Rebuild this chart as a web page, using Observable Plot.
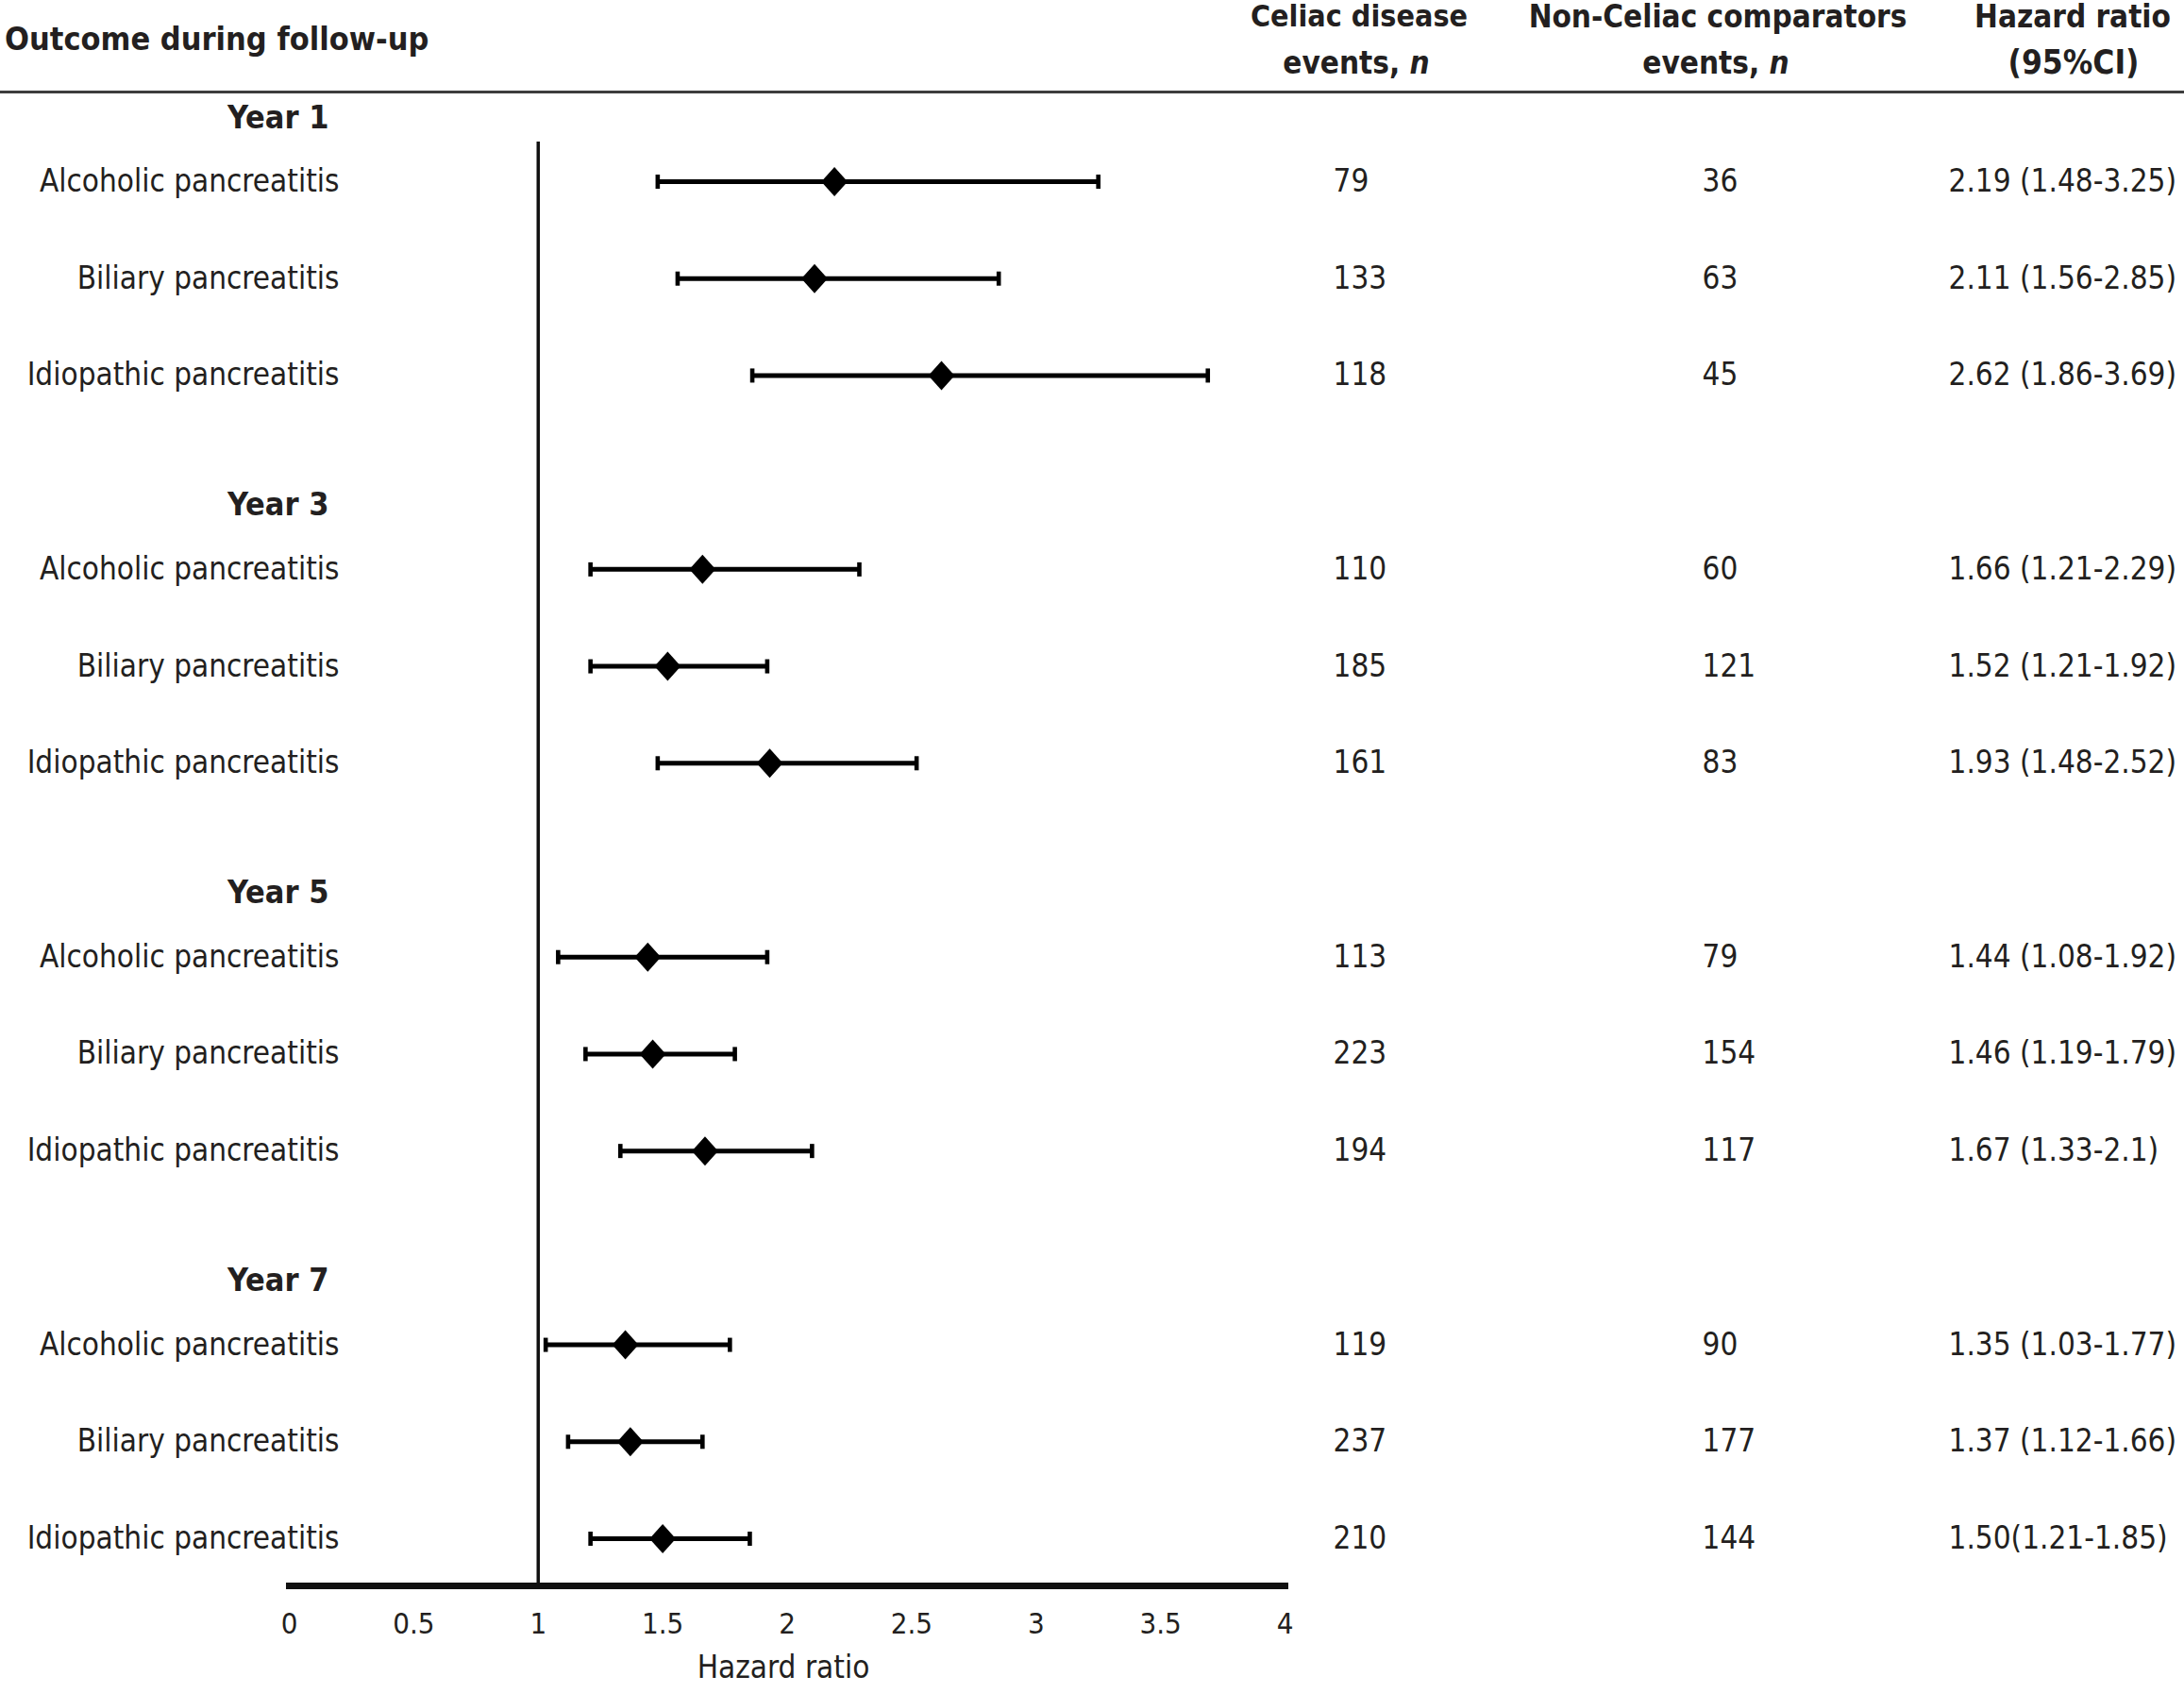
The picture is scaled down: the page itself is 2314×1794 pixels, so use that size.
<!DOCTYPE html>
<html>
<head>
<meta charset="utf-8">
<script src="https://cdn.jsdelivr.net/npm/d3@7"></script>
<script src="https://cdn.jsdelivr.net/npm/@observablehq/plot@0.6"></script>
<style>
  html, body { margin: 0; padding: 0; background: #fff; }
  #wrap { position: relative; width: 2314px; height: 1794px; font-family: 'DejaVu Sans Condensed', 'DejaVu Sans', sans-serif; font-stretch: condensed; color: #231f20; }
  .h { position: absolute; font-weight: bold; font-size: 33px; line-height: 33px; white-space: nowrap; }
  .c { transform: translateX(-50%); }
  #rule { position: absolute; left: 0; top: 96px; width: 2314px; height: 3px; background: #3c3c3c; }
</style>
</head>
<body>
<div id="wrap">
  <div class="h" style="left:5px; top:25px; font-size:34px;">Outcome during follow-up</div>
  <div class="h c" style="left:1440px; top:1px; font-size:32px;">Celiac disease</div>
  <div class="h c" style="left:1437px; top:50px;">events, <i>n</i></div>
  <div class="h c" style="left:1820px; top:1px;">Non-Celiac comparators</div>
  <div class="h c" style="left:1818px; top:50px;">events, <i>n</i></div>
  <div class="h c" style="left:2196px; top:1px;">Hazard ratio</div>
  <div class="h c" style="left:2197px; top:50px; font-size:35px;">(95%CI)</div>
  <div id="rule"></div>
</div>
<script>
const years = ["Year 1", "Year 3", "Year 5", "Year 7"];
const outcomes = ["Alcoholic pancreatitis", "Biliary pancreatitis", "Idiopathic pancreatitis"];
const hr   = [2.19, 2.11, 2.62, 1.66, 1.52, 1.93, 1.44, 1.46, 1.67, 1.35, 1.37, 1.50];
const lo   = [1.48, 1.56, 1.86, 1.21, 1.21, 1.48, 1.08, 1.19, 1.33, 1.03, 1.12, 1.21];
const hi   = [3.25, 2.85, 3.69, 2.29, 1.92, 2.52, 1.92, 1.79, 2.10, 1.77, 1.66, 1.85];
const celiacEvents = [79, 133, 118, 110, 185, 161, 113, 223, 194, 119, 237, 210];
const nonCeliacEvents = [36, 63, 45, 60, 121, 83, 79, 154, 117, 90, 177, 144];
const hrLabels = ["2.19 (1.48-3.25)", "2.11 (1.56-2.85)", "2.62 (1.86-3.69)",
                  "1.66 (1.21-2.29)", "1.52 (1.21-1.92)", "1.93 (1.48-2.52)",
                  "1.44 (1.08-1.92)", "1.46 (1.19-1.79)", "1.67 (1.33-2.1)",
                  "1.35 (1.03-1.77)", "1.37 (1.12-1.66)", "1.50(1.21-1.85)"];
const xTicks = [0, 0.5, 1, 1.5, 2, 2.5, 3, 3.5, 4];

// layout: each year block occupies 4 row slots; the year title sits above its first row
const rows = hr.map((d, k) => ({
  year: years[Math.floor(k / 3)],
  outcome: outcomes[k % 3],
  hr: d, lo: lo[k], hi: hi[k],
  celiac: String(celiacEvents[k]),
  non: String(nonCeliacEvents[k]),
  label: hrLabels[k],
  pos: Math.floor(k / 3) * 4 + (k % 3)
}));
const titles = years.map((y, g) => ({year: y, pos: g * 4 - 0.66}));

const capSymbol = {draw(ctx, size) { const r = Math.sqrt(size / Math.PI); ctx.rect(-2.3, -r, 4.6, 2 * r); }};
const diamondSymbol = {draw(ctx, size) {
  const r = Math.sqrt(size / Math.PI), w = r * 0.9;
  ctx.moveTo(0, -r); ctx.lineTo(w, 0); ctx.lineTo(0, r); ctx.lineTo(-w, 0); ctx.closePath();
}};

const ink = "#231f20";
const chart = Plot.plot({
  width: 2314, height: 1794,
  marginLeft: 306, marginRight: 953, marginTop: 150, marginBottom: 114,
  style: {fontFamily: "'DejaVu Sans Condensed', 'DejaVu Sans', sans-serif", fontSize: "31px", color: ink, background: "transparent", overflow: "visible"},
  x: {domain: [0, 4], label: null},
  y: {domain: [0, 14], range: [192, 1630], axis: null},
  marks: [
    Plot.ruleX([1], {stroke: "#111", strokeWidth: 3.5}),
    Plot.frame({anchor: "bottom", stroke: "#111", strokeWidth: 7}),
    Plot.axisX({ticks: xTicks, tickSize: 0, tickPadding: 28, tickFormat: d => String(d), fontSize: 31, fill: ink}),
    Plot.text(["Hazard ratio"], {frameAnchor: "bottom", dy: 97, dx: -4, fontSize: 33, fill: ink}),
    Plot.ruleY(rows, {y: "pos", x1: "lo", x2: "hi", stroke: "#000", strokeWidth: 5}),
    Plot.dot(rows, {x: "lo", y: "pos", symbol: capSymbol, r: 7.5, fill: "#000", stroke: null}),
    Plot.dot(rows, {x: "hi", y: "pos", symbol: capSymbol, r: 7.5, fill: "#000", stroke: null}),
    Plot.dot(rows, {x: "hr", y: "pos", symbol: diamondSymbol, r: 15.5, fill: "#000", stroke: null}),
    Plot.text(titles, {y: "pos", text: "year", frameAnchor: "left", dx: 42, textAnchor: "end", fontWeight: "bold", fontSize: 34, fill: ink}),
    Plot.text(rows, {y: "pos", text: "outcome", frameAnchor: "left", dx: 53, textAnchor: "end", fontSize: 33, fill: ink}),
    Plot.text(rows, {y: "pos", text: "celiac", frameAnchor: "right", dx: 51, textAnchor: "start", fontSize: 33, fill: ink}),
    Plot.text(rows, {y: "pos", text: "non", frameAnchor: "right", dx: 442, textAnchor: "start", fontSize: 33, fill: ink}),
    Plot.text(rows, {y: "pos", text: "label", frameAnchor: "right", dx: 703, textAnchor: "start", fontSize: 33, fill: ink})
  ]
});
chart.style.position = "absolute";
chart.style.left = "0px";
chart.style.top = "0px";
document.getElementById("wrap").prepend(chart);
</script>
</body>
</html>
